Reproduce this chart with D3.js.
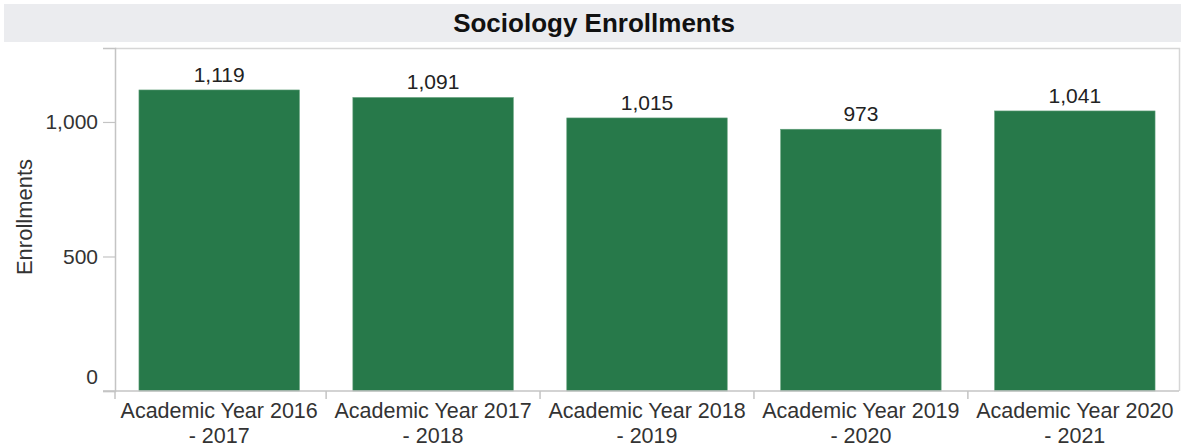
<!DOCTYPE html>
<html>
<head>
<meta charset="utf-8">
<script src="https://cdn.jsdelivr.net/npm/d3@7"></script>
<style>
  html, body { margin: 0; padding: 0; background: #fff; }
  svg { display: block; font-family: "Liberation Sans", Arial, sans-serif; }
</style>
</head>
<body>
<svg id="chart" width="1184" height="448"></svg>
<script>
const categories = [
  ["Academic Year 2016", "- 2017"],
  ["Academic Year 2017", "- 2018"],
  ["Academic Year 2018", "- 2019"],
  ["Academic Year 2019", "- 2020"],
  ["Academic Year 2020", "- 2021"]
];
const enrollments = [1119, 1091, 1015, 973, 1041];
const yTicks = [0, 500, 1000];
const title = "Sociology Enrollments";
const yTitle = "Enrollments";

const svg = d3.select("#chart");
const m = { left: 115, right: 1179, top: 48, bottom: 391 };

// title band
svg.append("rect").attr("x", 4).attr("y", 4).attr("width", 1177).attr("height", 38)
  .attr("fill", "#ebecef");
svg.append("text").attr("x", 594).attr("y", 32).attr("text-anchor", "middle")
  .attr("font-size", 26).attr("font-weight", "bold").attr("fill", "#111")
  .text(title);

const x = d3.scaleBand().domain(d3.range(categories.length))
  .range([m.left, m.right]).paddingInner(0.25).paddingOuter(0.112);
const y = d3.scaleLinear().domain([0, 1275]).range([m.bottom, m.top]);

// frame (top and right)
svg.append("path")
  .attr("d", `M${m.left},${m.top + 0.5}H${m.right + 0.5}V${m.bottom}`)
  .attr("fill", "none").attr("stroke", "#d6d6d6").attr("stroke-width", 1.5);

// bars
svg.append("g").selectAll("rect").data(enrollments).join("rect")
  .attr("x", (d, i) => x(i)).attr("width", x.bandwidth())
  .attr("y", d => y(d)).attr("height", d => y(0) - y(d))
  .attr("fill", "#27794a").attr("stroke", "#5f9e78").attr("stroke-width", 0.6);

// value labels
svg.append("g").selectAll("text").data(enrollments).join("text")
  .attr("x", (d, i) => x(i) + x.bandwidth() / 2).attr("y", d => y(d) - 8)
  .attr("text-anchor", "middle").attr("font-size", 21).attr("fill", "#222")
  .text(d => d3.format(",")(d));

// y axis
const yAxis = svg.append("g").attr("transform", `translate(${m.left},0)`)
  .call(d3.axisLeft(y).tickValues(yTicks).tickFormat(d3.format(",")).tickSize(12).tickPadding(5));
yAxis.select(".domain").attr("stroke", "#c4c4c4").attr("stroke-width", 1.5);
yAxis.selectAll(".tick line").attr("stroke", "#c4c4c4").attr("stroke-width", 1.2);
yAxis.selectAll(".tick text").attr("font-size", 21).attr("fill", "#333")
  .attr("font-family", "Liberation Sans, Arial, sans-serif");
yAxis.selectAll(".tick").filter(d => d === 0).select("text").attr("dy", "-0.35em");

// y title
svg.append("text").attr("transform", `translate(32,217) rotate(-90)`)
  .attr("text-anchor", "middle").attr("font-size", 22).attr("fill", "#333").text(yTitle);

// x axis baseline and ticks at band boundaries
const gap = x.step() * x.paddingInner();
const boundaries = d3.range(categories.length).map(i => i === 0 ? m.left : x(i) - gap / 2);
svg.append("line").attr("x1", m.left - 12).attr("x2", m.right).attr("y1", m.bottom).attr("y2", m.bottom)
  .attr("stroke", "#c4c4c4").attr("stroke-width", 1.5);
svg.append("g").selectAll("line").data(boundaries).join("line")
  .attr("x1", d => d).attr("x2", d => d).attr("y1", m.bottom).attr("y2", m.bottom + 8)
  .attr("stroke", "#c4c4c4").attr("stroke-width", 1.5);

// x labels
const xl = svg.append("g").selectAll("text").data(categories).join("text")
  .attr("text-anchor", "middle").attr("font-size", 21.5).attr("fill", "#333");
xl.each(function(d, i) {
  const t = d3.select(this);
  const cx = x(i) + x.bandwidth() / 2;
  t.append("tspan").attr("x", cx).attr("y", 418).text(d[0]);
  t.append("tspan").attr("x", cx).attr("y", 443).text(d[1]);
});
</script>
</body>
</html>
